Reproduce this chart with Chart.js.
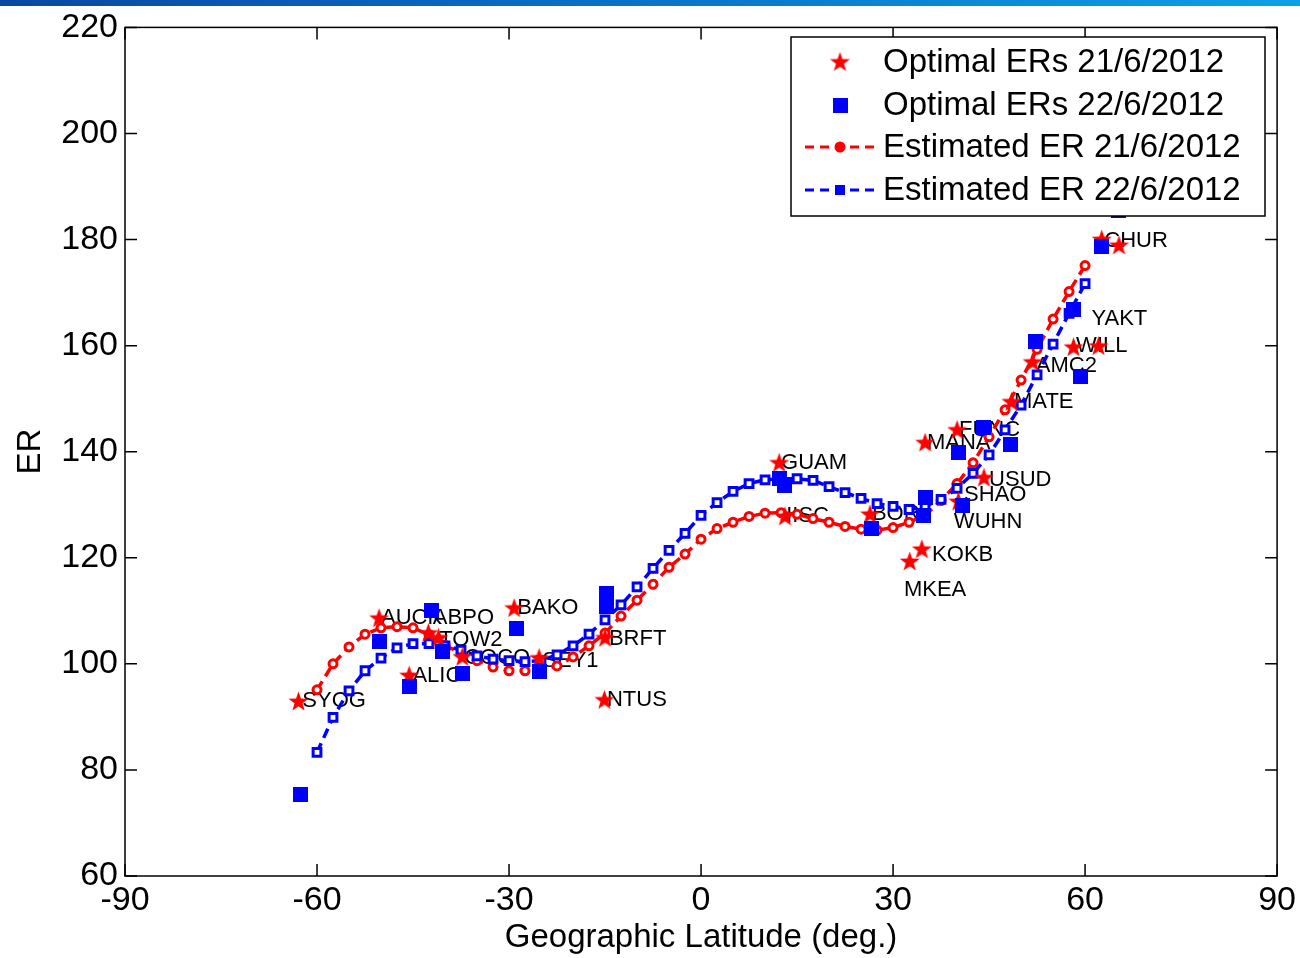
<!DOCTYPE html>
<html lang="en">
  <head>
    <meta charset="UTF-8" />
    <script src="https://cdn.jsdelivr.net/npm/chart.js@4.4.0/dist/chart.umd.min.js"></script>
    <title>ER vs Geographic Latitude</title>
    <style>
      body {
        margin: 0;
        padding: 0;
        background: #fff;
      }
      .container {
        position: relative;
        width: 1300px;
        height: 958px;
      }
      .topbar {
        position: absolute;
        left: 0;
        top: 0;
        width: 1300px;
        height: 6px;
        background: linear-gradient(to right, #0a48a2, #0a7ccc 60%, #0aa2e2);
      }
    </style>
  </head>
  <body>
    <div class="container">
      <canvas id="erChart" width="1300" height="958"></canvas>
      <div class="topbar"></div>
    </div>
    <script>
      // estimated ER curves, sampled every 2.5 deg
      const latEst = [-60, -57.5, -55, -52.5, -50, -47.5, -45, -42.5, -40, -37.5, -35, -32.5, -30, -27.5, -25, -22.5, -20, -17.5, -15, -12.5, -10, -7.5, -5, -2.5, 0, 2.5, 5, 7.5, 10, 12.5, 15, 17.5, 20, 22.5, 25, 27.5, 30, 32.5, 35, 37.5, 40, 42.5, 45, 47.5, 50, 52.5, 55, 57.5, 60]
      const erEst21 = [95.1, 100.0, 103.2, 105.6, 106.8, 107.0, 106.8, 105.5, 103.5, 102.0, 100.6, 99.4, 98.7, 98.7, 99.1, 99.6, 101.3, 103.4, 105.8, 109.0, 112.0, 115.0, 118.2, 120.7, 123.5, 125.5, 126.7, 127.8, 128.4, 128.5, 128.2, 127.4, 126.7, 125.9, 125.4, 125.2, 125.7, 126.7, 128.0, 130.8, 134.0, 137.9, 142.8, 147.9, 153.5, 159.3, 165.0, 170.2, 175.1]
      const erEst22 = [83.3, 89.9, 94.9, 98.7, 101.1, 103.0, 103.8, 103.8, 103.4, 102.6, 101.5, 100.9, 100.6, 100.4, 100.6, 101.7, 103.4, 105.6, 108.3, 111.1, 114.5, 118.0, 121.4, 124.6, 128.0, 130.4, 132.5, 134.0, 134.7, 134.9, 134.9, 134.6, 133.4, 132.3, 131.2, 130.2, 129.7, 129.1, 129.7, 131.0, 133.1, 135.9, 139.4, 144.1, 148.8, 154.5, 160.3, 166.1, 171.7]

      // optimal ERs per station
      const optLat21 = [-62.9, -50.3, -42.6, -41.0, -45.6, -37.3, -29.2, -25.3, -15.0, -15.1, 12.2, 13.1, 26.4, 32.6, 34.5, 35.0, 40.0, 44.2, 40.2, 48.5, 51.8, 58.2, 62.1, 62.6, 65.3]
      const optEr21 = [92.9, 108.6, 105.8, 104.9, 97.8, 101.3, 110.5, 101.1, 104.9, 93.2, 137.9, 127.8, 128.2, 119.3, 121.6, 141.7, 144.1, 135.1, 130.6, 149.4, 156.9, 159.7, 159.9, 180.0, 178.9]
      const optLat22 = [-62.6, -50.2, -42.1, -40.4, -45.6, -37.2, -28.8, -25.3, -14.7, -14.7, 12.2, 13.1, 26.7, 35.1, 34.8, 40.3, 40.8, 44.2, 48.4, 52.3, 58.2, 59.3, 62.6, 65.3]
      const optEr22 = [75.4, 104.3, 110.1, 102.3, 95.7, 98.1, 106.6, 98.5, 113.2, 110.9, 134.9, 133.6, 125.5, 131.4, 128.0, 139.8, 129.9, 144.5, 141.3, 160.7, 166.9, 154.1, 178.7, 185.4]

      // station names and where their text starts
      const stationNames = ['SYOG', 'AUCK', 'ABPO', 'TOW2', 'ALIC', 'COCO', 'BAKO', 'SEY1', 'BRFT', 'NTUS', 'GUAM', 'IISC', 'BOR1', 'MKEA', 'KOKB', 'MANA', 'FUNC', 'USUD', 'SHAO', 'WUHN', 'MATE', 'AMC2', 'WILL', 'YAKT', 'CHUR']
      const stationLat = [-62.3, -50.0, -41.9, -40.9, -45.1, -37.0, -28.7, -24.8, -14.4, -14.7, 12.5, 13.3, 26.7, 31.7, 36.1, 35.3, 40.3, 45.0, 41.1, 39.5, 48.9, 52.3, 58.6, 61.0, 63.0]
      const stationEr = [93.0, 108.6, 108.6, 104.6, 97.7, 101.1, 110.5, 100.6, 104.7, 93.2, 137.9, 127.8, 128.2, 113.9, 120.5, 141.7, 144.1, 134.6, 131.9, 126.7, 149.4, 156.2, 159.9, 165.0, 179.8]

      const xTicks = [-90, -60, -30, 0, 30, 60, 90]
      const yTicks = [60, 80, 100, 120, 140, 160, 180, 200, 220]

      const FONT = '"Liberation Sans", Arial, sans-serif'
      const RED = '#ff0000'
      const BLUE = '#0000ff'

      const makeStar = (r, color) => {
        const c = document.createElement('canvas')
        const s = Math.ceil(r * 2 + 2)
        c.width = s
        c.height = s
        const g = c.getContext('2d')
        g.translate(s / 2, s / 2 + 0.5)
        g.beginPath()
        for (let i = 0; i < 10; i++) {
          const rad = i % 2 ? r * 0.4 : r
          const a = -Math.PI / 2 + (i * Math.PI) / 5
          g.lineTo(rad * Math.cos(a), rad * Math.sin(a))
        }
        g.closePath()
        g.fillStyle = color
        g.fill()
        return c
      }
      const makeSquare = (size, color) => {
        const c = document.createElement('canvas')
        c.width = size
        c.height = size
        const g = c.getContext('2d')
        g.fillStyle = color
        g.fillRect(0, 0, size, size)
        return c
      }
      const starImg = makeStar(10.5, RED)
      const squareImg = makeSquare(15, BLUE)

      const toPoints = (xs, ys) => xs.map((x, i) => ({ x: x, y: ys[i] }))

      const stationLabels = {
        id: 'stationLabels',
        beforeDatasetsDraw(chart) {
          const { ctx, scales } = chart
          ctx.save()
          ctx.font = '22px ' + FONT
          ctx.fillStyle = '#000'
          ctx.textAlign = 'left'
          ctx.textBaseline = 'middle'
          stationNames.forEach((name, i) => {
            ctx.fillText(name, scales.x.getPixelForValue(stationLat[i]), scales.y.getPixelForValue(stationEr[i]))
          })
          ctx.restore()
        },
      }

      const boxAxes = {
        id: 'boxAxes',
        afterDatasetsDraw(chart) {
          const { ctx, chartArea: a, scales } = chart
          const tl = 12
          ctx.save()
          ctx.strokeStyle = '#000'
          ctx.lineWidth = 1.5
          ctx.strokeRect(a.left, a.top, a.right - a.left, a.bottom - a.top)
          ctx.beginPath()
          xTicks.forEach((v) => {
            const px = scales.x.getPixelForValue(v)
            ctx.moveTo(px, a.bottom)
            ctx.lineTo(px, a.bottom - tl)
            ctx.moveTo(px, a.top)
            ctx.lineTo(px, a.top + tl)
          })
          yTicks.forEach((v) => {
            const py = scales.y.getPixelForValue(v)
            ctx.moveTo(a.left, py)
            ctx.lineTo(a.left + tl, py)
            ctx.moveTo(a.right, py)
            ctx.lineTo(a.right - tl, py)
          })
          ctx.stroke()
          ctx.restore()
        },
      }

      const boxLegend = {
        id: 'boxLegend',
        afterDraw(chart) {
          const { ctx } = chart
          const x0 = 791, y0 = 37, w = 474, h = 179
          const rows = [62, 105, 147, 190]
          ctx.save()
          ctx.fillStyle = '#fff'
          ctx.fillRect(x0, y0, w, h)
          ctx.strokeStyle = '#000'
          ctx.lineWidth = 1.5
          ctx.strokeRect(x0, y0, w, h)

          ctx.drawImage(starImg, 840 - starImg.width / 2, rows[0] - starImg.height / 2)
          ctx.drawImage(squareImg, 840 - 7, rows[1] - 7)

          const lineSample = (y, color) => {
            ctx.strokeStyle = color
            ctx.lineWidth = 3
            ctx.setLineDash([9, 6])
            ctx.beginPath()
            ctx.moveTo(805, y)
            ctx.lineTo(876, y)
            ctx.stroke()
            ctx.setLineDash([])
          }
          lineSample(rows[2], RED)
          ctx.fillStyle = RED
          ctx.beginPath()
          ctx.arc(840, rows[2], 5.5, 0, Math.PI * 2)
          ctx.fill()
          lineSample(rows[3], BLUE)
          ctx.fillStyle = BLUE
          ctx.fillRect(835, rows[3] - 5, 10, 10)

          ctx.fillStyle = '#000'
          ctx.font = '33px ' + FONT
          ctx.textAlign = 'left'
          ctx.textBaseline = 'middle'
          const labels = chart.data.datasets.map((d) => d.label)
          labels.forEach((t, i) => ctx.fillText(t, 883, rows[i] + 1))
          ctx.restore()
        },
      }

      const ctxEr = document.getElementById('erChart').getContext('2d')
      const erChart = new Chart(ctxEr, {
        type: 'scatter',
        data: {
          datasets: [
            {
              label: 'Optimal ERs 21/6/2012',
              data: toPoints(optLat21, optEr21),
              pointStyle: starImg,
              showLine: false,
              order: 1,
            },
            {
              label: 'Optimal ERs 22/6/2012',
              data: toPoints(optLat22, optEr22),
              pointStyle: squareImg,
              showLine: false,
              order: 0,
            },
            {
              label: 'Estimated ER 21/6/2012',
              data: toPoints(latEst, erEst21),
              showLine: true,
              borderColor: RED,
              borderWidth: 3.5,
              borderDash: [10, 6],
              pointStyle: 'circle',
              pointRadius: 4,
              pointBorderWidth: 3,
              pointBorderColor: RED,
              pointBackgroundColor: '#fff',
              order: 3,
            },
            {
              label: 'Estimated ER 22/6/2012',
              data: toPoints(latEst, erEst22),
              showLine: true,
              borderColor: BLUE,
              borderWidth: 3.5,
              borderDash: [10, 6],
              pointStyle: 'rect',
              pointRadius: 5.5,
              pointBorderWidth: 3,
              pointBorderColor: BLUE,
              pointBackgroundColor: '#fff',
              order: 2,
            },
          ],
        },
        options: {
          responsive: false,
          animation: false,
          layout: {
            padding: { top: 23, right: 22, left: 0, bottom: 0 },
          },
          plugins: {
            legend: { display: false },
            tooltip: { enabled: false },
          },
          scales: {
            x: {
              type: 'linear',
              min: -90,
              max: 90,
              afterFit: (s) => {
                s.height = 82
              },
              ticks: {
                stepSize: 30,
                autoSkip: false,
                maxRotation: 0,
                padding: 4,
                color: '#000',
                font: { family: FONT, size: 34 },
              },
              grid: { display: false, drawTicks: false },
              border: { display: false },
              title: {
                display: true,
                text: 'Geographic Latitude (deg.)',
                color: '#000',
                font: { family: FONT, size: 33 },
                padding: 0,
              },
            },
            y: {
              min: 60,
              max: 220,
              afterFit: (s) => {
                s.width = 125
              },
              ticks: {
                stepSize: 20,
                padding: 7,
                color: '#000',
                font: { family: FONT, size: 34 },
              },
              grid: { display: false, drawTicks: false },
              border: { display: false },
              title: {
                display: true,
                text: 'ER',
                color: '#000',
                font: { family: FONT, size: 33 },
                padding: { top: 11, bottom: 0 },
              },
            },
          },
        },
        plugins: [stationLabels, boxAxes, boxLegend],
      })
    </script>
  </body>
</html>
